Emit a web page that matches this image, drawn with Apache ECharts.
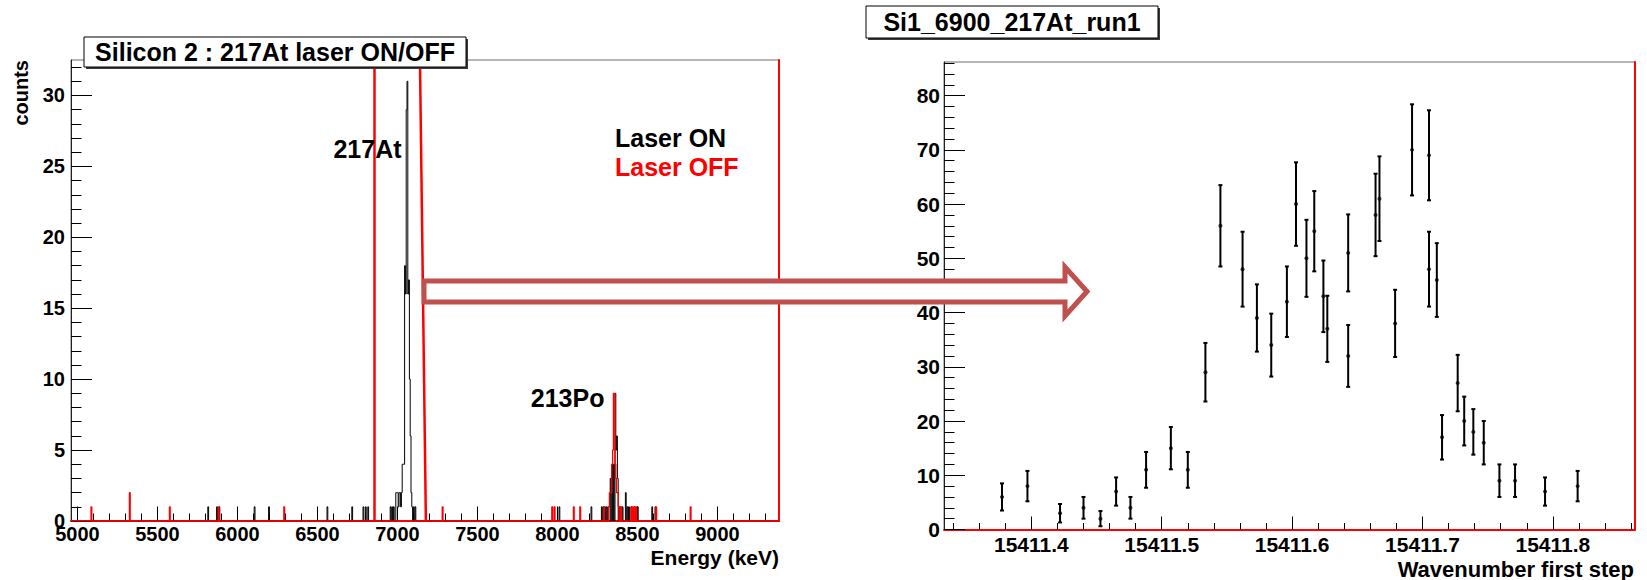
<!DOCTYPE html>
<html>
<head>
<meta charset="utf-8">
<script src="https://cdn.jsdelivr.net/npm/echarts@6.0.0/dist/echarts.min.js"></script>
<style>
html,body{margin:0;padding:0;background:#fff;}
#c{width:1647px;height:580px;}
</style>
</head>
<body>
<div id="c"></div>
<script>
// ---------------- DATA ----------------
// Left panel: Silicon 2 alpha spectra, 5 keV bins (left edges, keV) and counts
const binWidth = 5;
const onEnergies = [5815,5870,5885,6105,6195,6560,6715,6785,6800,6815,6955,6965,6975,6990,6995,7000,7005,7010,7015,7020,7025,7030,7035,7040,7045,7050,7055,7060,7065,7070,7075,7080,7085,7090,7100,7110,8010,8210,8275,8285,8295,8305,8315,8330,8340,8350,8360,8365,8370,8375,8385,8395,8405,8425,8435,8445,8460,8480,8500,8590,8610];
const onCounts   = [1,1,1,1,1,1,1,1,1,1,1,1,1,2,2,2,1,2,2,1,2,4,4,4,18,16,29,31,16,17,10,6,2,1,1,1,1,1,1,1,1,1,1,3,4,4,9,5,6,3,1,1,1,2,1,1,1,1,1,1,1];
const offEnergies = [5085,5325,5575,5880,6290,7280,7965,7980,8100,8140,8290,8320,8325,8330,8335,8340,8345,8350,8355,8360,8365,8370,8375,8380,8395,8460,8470,8480,8490,8615,8830];
const offCounts   = [1,2,1,1,1,1,1,1,1,1,1,1,2,2,2,4,5,9,9,4,3,2,2,1,1,1,1,1,1,1,1];
// Laser gate markers (keV)
const gateLow = 6856;
const gateHighTop = 7141;
const gateHighBottom = 7178;

const energyTickLabels = [5000,5500,6000,6500,7000,7500,8000,8500,9000];
const countTickLabels  = [0,5,10,15,20,25,30];

// Right panel: Si1_6900_217At_run1 scan
const waveNumbers = [15411.3775,15411.397,15411.422,15411.44,15411.453,15411.465,15411.476,15411.488,15411.507,15411.52,15411.5335,15411.545,15411.562,15411.573,15411.584,15411.596,15411.603,15411.611,15411.617,15411.624,15411.627,15411.643,15411.643,15411.664,15411.667,15411.679,15411.692,15411.705,15411.705,15411.711,15411.715,15411.727,15411.732,15411.739,15411.747,15411.759,15411.771,15411.794,15411.819];
const rates      = [6,8,3,4,2,7,4,11,15,11,29,56,48,39,34,42,60,50,55,43,37,51,32,58,61,38,70,69,48,46,17,27,20,18,16,9,9,7,8];
const rateErrors = [2.5,2.8,1.7,2,1.4,2.6,2,3.3,3.9,3.3,5.4,7.5,6.9,6.2,5.8,6.5,7.7,7.1,7.4,6.6,6.1,7.1,5.7,7.6,7.8,6.2,8.4,8.3,6.9,6.8,4.1,5.2,4.5,4.2,4,3,3,2.6,2.8];
const waveTickLabels = [15411.4,15411.5,15411.6,15411.7,15411.8];
const rateTickLabels = [0,10,20,30,40,50,60,70,80];

// ---------------- LAYOUT / STYLE ----------------
const FONT = '"Liberation Sans", Arial, Helvetica, sans-serif';
const E_MIN = 4960, E_MAX = 9385, C_MAX = 32.5;
const W_MIN = 15411.333, W_MAX = 15411.863, R_MAX = 86.2;

function range(a, b, step) { const out = []; const n = Math.round((b - a) / step); for (let k = 0; k <= n; k++) out.push(+(a + k * step).toFixed(6)); return out; }
const energyMinor = range(5000, 9300, 100);
const countMinor = range(0, 32, 1);
const waveMinor = range(15411.34, 15411.86, 0.02);
const rateMinor = range(0, 86, 2);

function denseHist(energies, counts) {
  const m = new Map();
  energies.forEach((e, i) => m.set(e, counts[i]));
  const pts = [];
  for (let e = E_MIN; e < E_MAX; e += binWidth) pts.push([e, m.get(e) || 0]);
  pts.push([E_MAX, 0]);
  return pts;
}

const lblStyle = (size, margin, lh, fmt) => ({show: true, color: '#000', fontSize: size, fontWeight: 'bold', fontFamily: FONT, margin: margin, lineHeight: lh, formatter: fmt});
const tickLine = {color: '#000', width: 1};

function xMajor(grid, min, max, ticks, len, size, margin, lh, fmt) {
  return {gridIndex: grid, type: 'value', position: 'bottom', min: min, max: max,
    axisLine: {show: true, onZero: false, lineStyle: {color: '#ff0000', width: 2}},
    axisTick: {show: true, inside: true, length: len, customValues: ticks, lineStyle: tickLine},
    axisLabel: Object.assign(lblStyle(size, margin, lh, fmt), {customValues: ticks}),
    splitLine: {show: false}, minorTick: {show: false}};
}
function xMinor(grid, min, max, ticks, len) {
  return {gridIndex: grid, type: 'value', position: 'bottom', min: min, max: max,
    axisLine: {show: false}, axisTick: {show: true, inside: true, length: len, customValues: ticks, lineStyle: tickLine},
    axisLabel: {show: false}, splitLine: {show: false}};
}
function yMajor(grid, max, ticks, len, size, margin, lh) {
  return {gridIndex: grid, type: 'value', position: 'left', min: 0, max: max,
    axisLine: {show: true, onZero: false, lineStyle: {color: '#222', width: 1}},
    axisTick: {show: true, inside: true, length: len, customValues: ticks, lineStyle: tickLine},
    axisLabel: Object.assign(lblStyle(size, margin, lh), {customValues: ticks}),
    splitLine: {show: false}};
}
function yMinor(grid, max, ticks, len) {
  return {gridIndex: grid, type: 'value', position: 'left', min: 0, max: max,
    axisLine: {show: false}, axisTick: {show: true, inside: true, length: len, customValues: ticks, lineStyle: tickLine},
    axisLabel: {show: false}, splitLine: {show: false}};
}
function yRight(grid, max) {
  return {gridIndex: grid, type: 'value', position: 'right', min: 0, max: max,
    axisLine: {show: true, onZero: false, lineStyle: {color: '#ff0000', width: 2}},
    axisTick: {show: false}, axisLabel: {show: false}, splitLine: {show: false}};
}

const chart = echarts.init(document.getElementById('c'), null, {renderer: 'svg', width: 1647, height: 580});

const option = {
  animation: false,
  backgroundColor: '#ffffff',
  textStyle: {fontFamily: FONT},
  grid: [
    {left: 71, right: 868, top: 60, bottom: 59, show: true, borderColor: '#6e6e6e', borderWidth: 1, backgroundColor: 'transparent', containLabel: false, outerBoundsMode: 'none'},
    {left: 944, right: 12, top: 62, bottom: 50.5, show: true, borderColor: '#6e6e6e', borderWidth: 1, backgroundColor: 'transparent', containLabel: false, outerBoundsMode: 'none'}
  ],
  xAxis: [
    xMajor(0, E_MIN, E_MAX, energyTickLabels, 14.5, 20, 6, 14, v => String(v)),
    xMinor(0, E_MIN, E_MAX, energyMinor, 7.5),
    xMajor(1, W_MIN, W_MAX, waveTickLabels, 13, 21, 7, 16, v => Number(v).toFixed(1)),
    xMinor(1, W_MIN, W_MAX, waveMinor, 6.5)
  ],
  yAxis: [
    yMajor(0, C_MAX, countTickLabels, 21, 20, 6, 12),
    yMinor(0, C_MAX, countMinor, 10.5),
    yRight(0, C_MAX),
    yMajor(1, R_MAX, rateTickLabels, 21, 21, 4, 14),
    yMinor(1, R_MAX, rateMinor, 10.5),
    yRight(1, R_MAX)
  ],
  legend: {
    show: true, orient: 'vertical', left: 605, top: 120, itemGap: 4.5,
    itemWidth: 0, itemHeight: 25, icon: 'rect', selectedMode: false,
    textStyle: {fontSize: 25, fontWeight: 'bold', fontFamily: FONT},
    data: [
      {name: 'Laser ON', textStyle: {color: '#000000'}},
      {name: 'Laser OFF', textStyle: {color: '#ff0000'}}
    ]
  },
  series: [
    {name: 'Laser ON', type: 'line', xAxisIndex: 0, yAxisIndex: 0, step: 'end',
     data: denseHist(onEnergies, onCounts), symbol: 'none', showSymbol: false,
     lineStyle: {color: '#000000', width: 1}, itemStyle: {color: '#000000'}, z: 3, silent: true},
    {name: 'Laser OFF', type: 'line', xAxisIndex: 0, yAxisIndex: 0, step: 'end',
     data: denseHist(offEnergies, offCounts), symbol: 'none', showSymbol: false,
     lineStyle: {color: '#ff0000', width: 1.3}, itemStyle: {color: '#ff0000'}, z: 4, silent: true,
     markLine: {
       silent: true, symbol: ['none', 'none'], label: {show: false}, animation: false,
       lineStyle: {color: '#ff0000', width: 2.5, type: 'solid'},
       emphasis: {disabled: true},
       data: [
         [{coord: [gateLow, 0]}, {coord: [gateLow, C_MAX]}],
         [{coord: [gateHighBottom, 0]}, {coord: [gateHighTop, C_MAX]}]
       ]
     }},
    {name: 'errors', type: 'custom', xAxisIndex: 2, yAxisIndex: 3, z: 4, silent: true,
     data: waveNumbers.map((w, i) => [w, rates[i] - rateErrors[i], rates[i] + rateErrors[i]]),
     encode: {x: 0, y: [1, 2]},
     renderItem: function (params, api) {
       const x = api.value(0);
       const lo = api.coord([x, api.value(1)]);
       const hi = api.coord([x, api.value(2)]);
       const cw = 2, st = {stroke: '#000', lineWidth: 2};
       return {type: 'group', children: [
         {type: 'line', shape: {x1: lo[0], y1: lo[1], x2: hi[0], y2: hi[1]}, style: st},
         {type: 'line', shape: {x1: lo[0] - cw, y1: lo[1], x2: lo[0] + cw, y2: lo[1]}, style: st},
         {type: 'line', shape: {x1: hi[0] - cw, y1: hi[1], x2: hi[0] + cw, y2: hi[1]}, style: st}
       ]};
     }},
    {name: 'points', type: 'scatter', xAxisIndex: 2, yAxisIndex: 3, z: 5, silent: true,
     data: waveNumbers.map((w, i) => [w, rates[i]]),
     symbol: 'circle', symbolSize: 4, itemStyle: {color: '#000000'}}
  ]
};
chart.setOption(option);

// Annotations placed through the chart's own coordinate conversion
const p217 = chart.convertToPixel({xAxisIndex: 0, yAxisIndex: 0}, [7026, 26.2]);
const p213 = chart.convertToPixel({xAxisIndex: 0, yAxisIndex: 0}, [8294, 8.7]);
const bold = (size) => ({fontSize: size, fontWeight: 'bold', fontFamily: FONT});

chart.setOption({
  graphic: [
    // left title box
    {type: 'rect', shape: {x: 86, y: 39, width: 382, height: 30}, style: {fill: '#3a3a3a'}, z: 50},
    {type: 'rect', shape: {x: 84, y: 37, width: 382, height: 30}, style: {fill: '#fff', stroke: '#000', lineWidth: 1}, z: 51},
    {type: 'text', x: 275, y: 52, z: 52, style: Object.assign({text: 'Silicon 2 : 217At laser ON/OFF', fill: '#000', align: 'center', verticalAlign: 'middle'}, bold(25))},
    // right title box
    {type: 'rect', shape: {x: 868, y: 8, width: 292, height: 32}, style: {fill: '#3a3a3a'}, z: 50},
    {type: 'rect', shape: {x: 866, y: 6, width: 292, height: 32}, style: {fill: '#fff', stroke: '#000', lineWidth: 1}, z: 51},
    {type: 'text', x: 1012, y: 21.5, z: 52, style: Object.assign({text: 'Si1_6900_217At_run1', fill: '#000', align: 'center', verticalAlign: 'middle'}, bold(25))},
    // axis titles
    {type: 'text', x: 20.5, y: 60, rotation: Math.PI / 2, z: 52, style: Object.assign({text: 'counts', fill: '#000', align: 'right', verticalAlign: 'middle'}, bold(20))},
    {type: 'text', x: 779, y: 557, z: 52, style: Object.assign({text: 'Energy (keV)', fill: '#000', align: 'right', verticalAlign: 'middle'}, bold(21))},
    {type: 'text', x: 1634, y: 569, z: 52, style: Object.assign({text: 'Wavenumber first step', fill: '#000', align: 'right', verticalAlign: 'middle'}, bold(22))},
    // peak labels
    {type: 'text', x: p217[0], y: p217[1], z: 52, style: Object.assign({text: '217At', fill: '#000', align: 'right', verticalAlign: 'middle'}, bold(25))},
    {type: 'text', x: p213[0], y: p213[1], z: 52, style: Object.assign({text: '213Po', fill: '#000', align: 'right', verticalAlign: 'middle'}, bold(25))},
    // big hollow arrow
    {type: 'polygon', z: 60,
     shape: {points: [[424, 281], [1065, 281], [1065, 267], [1087, 291.5], [1065, 316], [1065, 302], [424, 302]]},
     style: {fill: '#ffffff', stroke: '#c0504d', lineWidth: 5, lineJoin: 'miter'}}
  ]
});
</script>
</body>
</html>
